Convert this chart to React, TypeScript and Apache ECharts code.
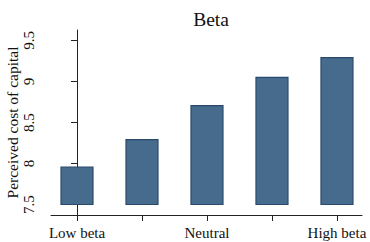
import React, { useEffect, useRef } from "react";
import * as echarts from "echarts";

const categories = ["Low beta", "", "Neutral", "", "High beta"];
const values = [7.955, 8.29, 8.705, 9.05, 9.29];
const baseValue = 7.5;
const yTicks = [7.5, 8, 8.5, 9, 9.5];
const title = "Beta";
const yName = "Perceived cost of capital";

export default function App() {
  const ref = useRef<HTMLDivElement>(null);
  useEffect(() => {
    if (!ref.current) return;
    const chart = echarts.init(ref.current, undefined, { renderer: "svg" });
    const font = "'Liberation Serif', 'Times New Roman', serif";
    const axisColor = "#222";
    chart.setOption({
      animation: false,
      backgroundColor: "#fff",
      title: {
        text: title,
        left: 206,
        top: 4,
        textAlign: "center",
        textStyle: { fontFamily: font, fontSize: 19.5, fontWeight: "normal", color: "#111" },
      },
      grid: { left: 51, right: 8, top: 30, bottom: 27, outerBoundsMode: "none", containLabel: false },
      xAxis: {
        type: "value",
        min: -0.4,
        max: 4.385,
        splitLine: { show: false },
        axisLine: { show: true, lineStyle: { color: axisColor, width: 1 } },
        axisTick: { show: true, length: 6, customValues: [0, 1, 2, 3, 4], lineStyle: { color: axisColor } },
        axisLabel: {
          customValues: [0, 2, 4],
          formatter: (v: number) => categories[Math.round(v)] ?? "",
          fontFamily: font,
          fontSize: 15,
          color: "#111",
          margin: 10,
        },
      },
      yAxis: {
        type: "value",
        min: 7.372,
        max: 9.628,
        name: yName,
        nameLocation: "middle",
        nameGap: 31,
        nameMoveOverlap: false,
        nameTextStyle: { fontFamily: font, fontSize: 15.5, color: "#111" },
        splitLine: { show: false },
        axisLine: { show: true, lineStyle: { color: axisColor, width: 1 } },
        axisTick: { show: true, length: 6, customValues: yTicks, lineStyle: { color: axisColor } },
        axisLabel: {
          customValues: yTicks,
          formatter: (v: number) => String(v),
          rotate: 90,
          fontFamily: font,
          fontSize: 15,
          color: "#111",
          margin: 15,
        },
      },
      series: [
        {
          type: "custom",
          data: values.map((v, i) => [i, v]),
          renderItem: (params: any, api: any) => {
            const x = api.value(0);
            const v = api.value(1);
            const top = api.coord([x, v]);
            const bottom = api.coord([x, baseValue]);
            const w = 32;
            return {
              type: "rect",
              shape: { x: top[0] - w / 2, y: top[1], width: w, height: bottom[1] - top[1] },
              style: { fill: "#476b8c", stroke: "#2a4a6c", lineWidth: 1.2 },
            };
          },
        },
      ],
    });
    return () => chart.dispose();
  }, []);
  return <div ref={ref} style={{ width: 370, height: 242, position: "absolute", left: 0, top: 0 }} />;
}
